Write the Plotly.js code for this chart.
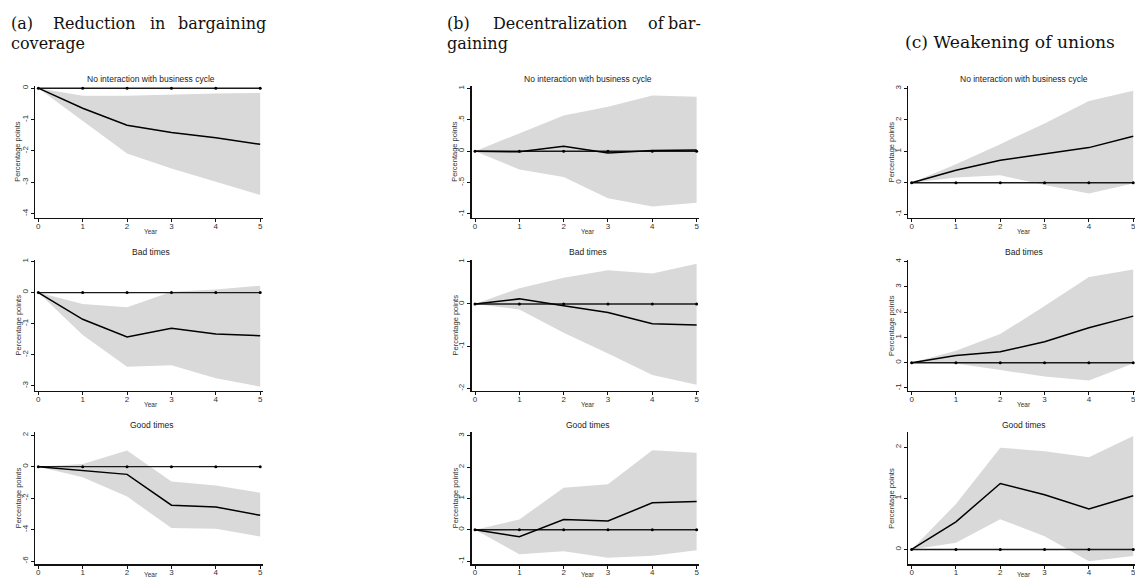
<!DOCTYPE html>
<html>
<head>
<meta charset="utf-8">
<script src="https://cdn.plot.ly/plotly-3.0.1.min.js"></script>
<style>html,body{margin:0;padding:0;background:#fff;}#chart{width:1135px;height:578px;}</style>
</head>
<body>
<div id="chart"></div>
<script>
// ---------- data ----------
const years = [0, 1, 2, 3, 4, 5];
const zeroLine = [0, 0, 0, 0, 0, 0];

const panelTitles = ["No interaction with business cycle", "Bad times", "Good times"];

// (a) Reduction in bargaining coverage
const a_noint_est = [0, -0.64, -1.18, -1.41, -1.58, -1.79];
const a_noint_hi  = [0, -0.24, -0.24, -0.20, -0.17, -0.15];
const a_noint_lo  = [0, -1.05, -2.08, -2.56, -2.98, -3.41];
const a_bad_est = [0, -0.86, -1.43, -1.15, -1.33, -1.39];
const a_bad_hi  = [0, -0.37, -0.47, 0.03, 0.10, 0.22];
const a_bad_lo  = [0, -1.37, -2.39, -2.34, -2.76, -3.03];
const a_good_est = [0, -0.25, -0.49, -2.45, -2.56, -3.09];
const a_good_hi  = [0, 0.17, 1.02, -0.95, -1.20, -1.65];
const a_good_lo  = [0, -0.68, -1.90, -3.90, -3.94, -4.44];

// (b) Decentralization of bargaining
const b_noint_est = [0, -0.01, 0.08, -0.03, 0.01, 0.02];
const b_noint_hi  = [0, 0.28, 0.57, 0.71, 0.89, 0.87];
const b_noint_lo  = [0, -0.29, -0.41, -0.75, -0.88, -0.82];
const b_bad_est = [0, 0.12, -0.04, -0.20, -0.47, -0.50];
const b_bad_hi  = [0, 0.37, 0.62, 0.80, 0.72, 0.95];
const b_bad_lo  = [0, -0.13, -0.68, -1.17, -1.68, -1.91];
const b_good_est = [0, -0.22, 0.33, 0.28, 0.86, 0.90];
const b_good_hi  = [0, 0.33, 1.34, 1.45, 2.54, 2.46];
const b_good_lo  = [0, -0.78, -0.68, -0.89, -0.83, -0.65];

// (c) Weakening of unions
const c_noint_est = [0, 0.40, 0.72, 0.91, 1.12, 1.48];
const c_noint_hi  = [0, 0.59, 1.23, 1.89, 2.60, 2.93];
const c_noint_lo  = [0, 0.17, 0.24, -0.07, -0.34, -0.02];
const c_bad_est = [0, 0.28, 0.43, 0.83, 1.38, 1.84];
const c_bad_hi  = [0, 0.47, 1.13, 2.24, 3.39, 3.68];
const c_bad_lo  = [0, -0.03, -0.29, -0.55, -0.70, -0.03];
const c_good_est = [0, 0.54, 1.29, 1.07, 0.79, 1.05];
const c_good_hi  = [0, 0.89, 1.99, 1.92, 1.80, 2.22];
const c_good_lo  = [0, 0.13, 0.59, 0.26, -0.23, -0.13];

// y tick values / labels
const a1_ticks = [-4, -3, -2, -1, 0];
const a1_text  = ["-4", "-3", "-2", "-1", "0"];
const a2_ticks = [-3, -2, -1, 0, 1];
const a2_text  = ["-3", "-2", "-1", "0", "1"];
const a3_ticks = [-6, -4, -2, 0, 2];
const a3_text  = ["-6", "-4", "-2", "0", "2"];
const b1_ticks = [-1, -0.5, 0, 0.5, 1];
const b1_text  = ["-1", "-.5", "0", ".5", "1"];
const b2_ticks = [-2, -1, 0, 1];
const b2_text  = ["-2", "-1", "0", "1"];
const b3_ticks = [-1, 0, 1, 2, 3];
const b3_text  = ["-1", "0", "1", "2", "3"];
const c1_ticks = [-1, 0, 1, 2, 3];
const c1_text  = ["-1", "0", "1", "2", "3"];
const c2_ticks = [-1, 0, 1, 2, 3, 4];
const c2_text  = ["-1", "0", "1", "2", "3", "4"];
const c3_ticks = [0, 1, 2];
const c3_text  = ["0", "1", "2"];

// ---------- layout geometry (pixels) ----------
const W = 1135, H = 578;
const px = x => x / W;
const py = y => 1 - y / H;

const cols = [
  {l: 35.0, r: 263.3, xr: [-0.075, 5.07], ytitleX: 18},
  {l: 471.7, r: 699.3, xr: [-0.075, 5.06], ytitleX: 455},
  {l: 908.3, r: 1135, xr: [-0.075, 5.04], ytitleX: 891.5}
];
const rows = [
  {t: 86, b: 217.7, titleY: 79, yearY: 232},
  {t: 260, b: 391, titleY: 252, yearY: 404.5},
  {t: 432.3, b: 564.3, titleY: 425, yearY: 574.5}
];

const panels = [
  // col, row, est, hi, lo, yrange, ticks, text
  [0, 0, a_noint_est, a_noint_hi, a_noint_lo, [-4.13, 0.07], a1_ticks, a1_text],
  [0, 1, a_bad_est, a_bad_hi, a_bad_lo, [-3.17, 1.05], a2_ticks, a2_text],
  [0, 2, a_good_est, a_good_hi, a_good_lo, [-6.2, 2.18], a3_ticks, a3_text],
  [1, 0, b_noint_est, b_noint_hi, b_noint_lo, [-1.06, 1.04], b1_ticks, b1_text],
  [1, 1, b_bad_est, b_bad_hi, b_bad_lo, [-2.06, 1.04], b2_ticks, b2_text],
  [1, 2, b_good_est, b_good_hi, b_good_lo, [-1.1, 3.11], b3_ticks, b3_text],
  [2, 0, c_noint_est, c_noint_hi, c_noint_lo, [-1.11, 3.08], c1_ticks, c1_text],
  [2, 1, c_bad_est, c_bad_hi, c_bad_lo, [-1.12, 4.06], c2_ticks, c2_text],
  [2, 2, c_good_est, c_good_hi, c_good_lo, [-0.29, 2.29], c3_ticks, c3_text]
];

const SANS = "Liberation Sans, Arial, sans-serif";
const SERIF = "DejaVu Serif, serif";
const traces = [];
const layout = {
  width: W, height: H, autosize: false,
  margin: {l: 0, r: 0, t: 0, b: 0, pad: 0},
  paper_bgcolor: "#fff", plot_bgcolor: "rgba(0,0,0,0)",
  showlegend: false,
  font: {family: SANS, color: "#222"},
  annotations: []
};

panels.forEach((p, i) => {
  const [ci, ri, est, hi, lo, yr, tv, tt] = p;
  const c = cols[ci], r = rows[ri];
  const n = i + 1;
  const xa = "x" + (n === 1 ? "" : n), ya = "y" + (n === 1 ? "" : n);
  const xk = "xaxis" + (n === 1 ? "" : n), yk = "yaxis" + (n === 1 ? "" : n);

  traces.push({x: years, y: lo, xaxis: xa, yaxis: ya, type: "scatter", mode: "lines",
    line: {width: 0, color: "rgba(0,0,0,0)"}, hoverinfo: "skip"});
  traces.push({x: years, y: hi, xaxis: xa, yaxis: ya, type: "scatter", mode: "lines",
    fill: "tonexty", fillcolor: "#d9d9d9", line: {width: 0, color: "rgba(0,0,0,0)"}, hoverinfo: "skip"});
  traces.push({x: years, y: zeroLine, xaxis: xa, yaxis: ya, type: "scatter", mode: "lines+markers",
    line: {width: 1.4, color: "#1a1a1a"}, marker: {size: 3, color: "#000", symbol: "circle"}});
  traces.push({x: years, y: est, xaxis: xa, yaxis: ya, type: "scatter", mode: "lines",
    line: {width: 1.5, color: "#000"}});

  layout[xk] = {
    domain: [px(c.l), px(c.r)], anchor: ya, range: c.xr,
    showgrid: false, zeroline: false, showline: true, linecolor: "#111", linewidth: 1.3,
    ticks: "outside", ticklen: 3, tickwidth: 1, tickcolor: "#111",
    tickvals: years, ticktext: years.map(String), ticklabelstandoff: -3,
    ticklabeloverflow: "allow",
    tickfont: {size: 8, family: SANS, color: "#333"}, automargin: false, fixedrange: true
  };
  layout[yk] = {
    domain: [py(r.b), py(r.t)], anchor: xa, range: yr,
    showgrid: false, zeroline: false, showline: true, linecolor: "#111", linewidth: 1.3,
    ticks: "outside", ticklen: 3, tickwidth: 1, tickcolor: "#111",
    tickvals: tv, ticktext: tt, tickangle: -90, ticklabeloverflow: "allow",
    tickfont: {size: 8, family: SANS, color: "#333"}, automargin: false, fixedrange: true
  };

  const cx = (c.l + c.r) / 2 + 2;
  layout.annotations.push({text: panelTitles[ri], xref: "paper", yref: "paper",
    x: px(cx), y: py(r.titleY), xanchor: "center", yanchor: "middle", showarrow: false,
    font: {size: 8.5, family: SANS, color: "#222"}});
  layout.annotations.push({text: "Year", xref: "paper", yref: "paper",
    x: px(cx), y: py(r.yearY), xanchor: "center", yanchor: "middle", showarrow: false,
    font: {size: 6.5, family: SANS, color: "#333"}});
  layout.annotations.push({text: "Percentage points", xref: "paper", yref: "paper",
    x: px(c.ytitleX), y: py((r.t + r.b) / 2), xanchor: "center", yanchor: "middle", showarrow: false,
    textangle: -90, font: {size: 7.5, family: SANS, color: "#333"}});
});

// panel headers (justified lines placed word by word)
const headerWords = [
  {t: "(a)", x: 9.3, y: 23, a: "left", s: 16},
  {t: "Reduction", x: 94, y: 23, a: "center", s: 16},
  {t: "in", x: 157, y: 23, a: "center", s: 16},
  {t: "bargaining", x: 268, y: 23, a: "right", s: 16},
  {t: "coverage", x: 9.3, y: 43, a: "left", s: 16},
  {t: "(b)", x: 445, y: 23, a: "left", s: 16},
  {t: "Decentralization", x: 560, y: 23, a: "center", s: 16},
  {t: "of", x: 656, y: 23, a: "center", s: 16},
  {t: "bar-", x: 702.7, y: 23, a: "right", s: 16},
  {t: "gaining", x: 445, y: 43, a: "left", s: 16},
  {t: "(c) Weakening of unions", x: 902.7, y: 41.7, a: "left", s: 17.2}
];
headerWords.forEach(w => {
  layout.annotations.push({text: w.t, xref: "paper", yref: "paper",
    x: px(w.x), y: py(w.y), xanchor: w.a, yanchor: "middle", showarrow: false,
    font: {size: w.s, family: SERIF, color: "#111"}});
});

Plotly.newPlot("chart", traces, layout, {displayModeBar: false, staticPlot: true});
</script>
</body>
</html>
